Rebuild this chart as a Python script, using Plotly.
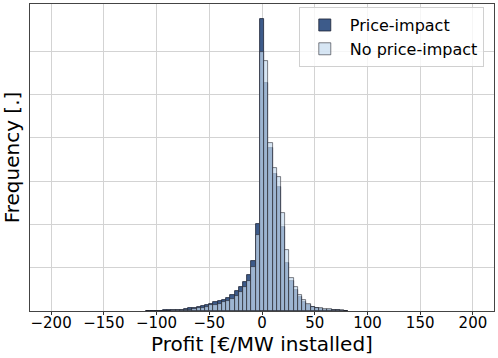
import plotly.graph_objects as go

# bin centres (bin width 4 €/MW)
bin_centers = [-108, -104, -100, -96, -92, -88, -84, -80, -76, -72, -68, -64, -60, -56,
               -52, -48, -44, -40, -36, -32, -28, -24, -20, -16, -12, -8, -4, 0,
               4, 8, 12, 16, 20, 24, 28, 32, 36, 40, 44, 48, 52, 56, 60, 64,
               68, 72, 76, 80]

# Price-impact counts
price_impact = [1, 1, 1, 1, 2, 2, 2, 3, 3, 5, 6, 7, 9, 12,
                15, 17, 20, 22, 25, 30, 37, 46, 55, 67, 83, 115, 201, 675,
                526, 376, 316, 286, 194, 111, 69, 48, 32, 21, 14, 9, 6, 5, 3, 3,
                2, 2, 1, 0]

# No price-impact counts
no_price_impact = [0, 1, 1, 1, 1, 1, 2, 2, 2, 3, 3, 5, 6, 8,
                   10, 13, 15, 17, 20, 23, 28, 35, 44, 55, 69, 102, 175, 597,
                   577, 388, 330, 309, 226, 141, 76, 55, 37, 25, 16, 10, 7, 6, 5, 5,
                   3, 3, 2, 1]

x_ticks = [-200, -150, -100, -50, 0, 50, 100, 150, 200]
y_grid = [0, 100, 200, 300, 400, 500, 600]

fig = go.Figure()

fig.add_trace(go.Bar(
    x=bin_centers, y=price_impact, width=4, name="Price-impact",
    marker=dict(color="#3d5b8a", line=dict(color="#1c2233", width=0.8)),
))
fig.add_trace(go.Bar(
    x=bin_centers, y=no_price_impact, width=4, name="No price-impact",
    marker=dict(color="rgba(198,219,239,0.7)", line=dict(color="rgba(30,30,40,0.7)", width=0.8)),
))

fig.update_layout(
    width=498, height=358,
    margin=dict(l=30, r=4, t=4, b=47),
    paper_bgcolor="white", plot_bgcolor="white",
    barmode="overlay", bargap=0,
    font=dict(family="DejaVu Sans", color="black"),
    showlegend=True,
    legend=dict(x=0.978, y=0.99, xanchor="right", yanchor="top",
                bgcolor="rgba(255,255,255,0.8)", bordercolor="#d0d0d0", borderwidth=1,
                font=dict(size=16), itemwidth=40, tracegroupgap=4),
    xaxis=dict(
        range=[-220, 220], tickvals=x_ticks, automargin=False,
        ticktext=[str(v).replace("-", "\u2212") for v in x_ticks],
        tickfont=dict(size=15), ticks="outside", ticklen=3, tickcolor="#333",
        ticklabelstandoff=-5,
        showgrid=True, gridcolor="#d3d3d3", gridwidth=1,
        showline=True, linecolor="#444", linewidth=1, mirror=True, zeroline=False,
        title=dict(text="Profit [€/MW installed]", font=dict(size=20), standoff=0),
    ),
    yaxis=dict(
        range=[0, 708.5], tickvals=y_grid, showticklabels=False, ticks="",
        automargin=False,
        showgrid=True, gridcolor="#d3d3d3", gridwidth=1,
        showline=True, linecolor="#444", linewidth=1, mirror=True, zeroline=False,
        title=dict(text="Frequency [.]", font=dict(size=20), standoff=4),
    ),
)

# page body has a default 8px margin; remove it so the figure sits at the corner
fig.write_html("out.html", config={"displayModeBar": False},
               post_script="document.body.style.margin='0';")
